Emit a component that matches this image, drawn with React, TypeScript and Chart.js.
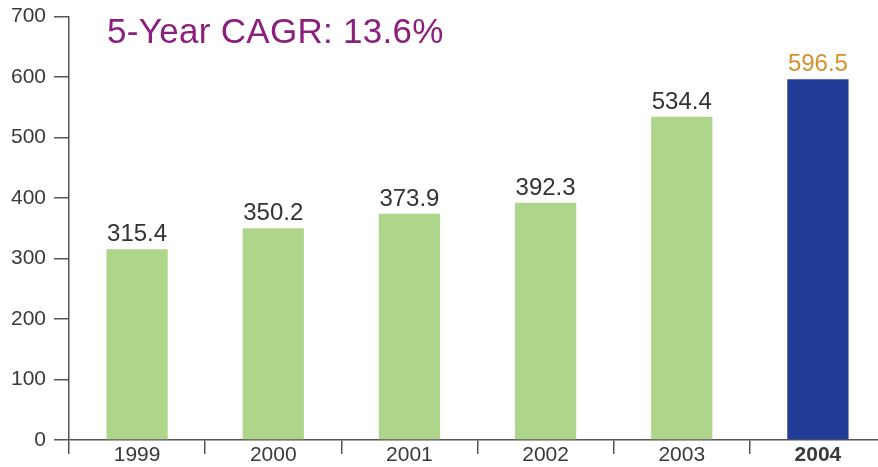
import React, { useEffect, useRef } from "react";
import { Chart, registerables } from "chart.js";

Chart.register(...registerables);

const years = ["1999", "2000", "2001", "2002", "2003", "2004"];
const revenue = [315.4, 350.2, 373.9, 392.3, 534.4, 596.5];
const valueLabels = ["315.4", "350.2", "373.9", "392.3", "534.4", "596.5"];
const titleText = "5-Year CAGR: 13.6%";

const FONT = "'Liberation Sans', Arial, sans-serif";
const GREEN = "#aed68a";
const BLUE = "#213d98";
const AXIS = "#555555";
const SHIFT = 4;

const labelPlugin = {
  id: "valueLabels",
  afterDatasetsDraw(chart: any) {
    const ctx = chart.ctx;
    const meta = chart.getDatasetMeta(0);
    ctx.save();
    ctx.font = `24px ${FONT}`;
    ctx.textAlign = "center";
    ctx.textBaseline = "alphabetic";
    meta.data.forEach((bar: any, i: number) => {
      ctx.fillStyle = i === revenue.length - 1 ? "#d4922e" : "#333333";
      ctx.fillText(valueLabels[i], bar.x, bar.y - 8);
    });
    // title
    ctx.font = `35px ${FONT}`;
    ctx.textAlign = "left";
    ctx.fillStyle = "#8b1f7d";
    try {
      (ctx as any).letterSpacing = "0.3px";
    } catch (e) {}
    ctx.fillText(titleText, 107, 43 + SHIFT);
    ctx.restore();
  },
};

export default function App() {
  const ref = useRef<HTMLCanvasElement>(null);
  useEffect(() => {
    if (!ref.current) return;
    const chart = new Chart(ref.current, {
      type: "bar",
      data: {
        labels: years,
        datasets: [
          {
            data: revenue,
            backgroundColor: revenue.map((_, i) => (i === revenue.length - 1 ? BLUE : GREEN)),
            borderWidth: 0,
            categoryPercentage: 1,
            barPercentage: 0.45,
          },
        ],
      },
      options: {
        animation: false,
        responsive: false,
        maintainAspectRatio: false,
        layout: { padding: { top: 13, right: 0, left: 0, bottom: 0 } },
        plugins: { legend: { display: false }, tooltip: { enabled: false }, title: { display: false } },
        scales: {
          x: {
            offset: true,
            grid: {
              offset: true,
              drawOnChartArea: false,
              drawTicks: true,
              tickLength: 14,
              color: AXIS,
              lineWidth: 1.5,
            },
            border: { display: true, color: AXIS, width: 1.5 },
            ticks: {
              padding: -11,
              color: "#3a3a3a",
              font: (c: any) => ({
                family: FONT,
                size: 21,
                weight: c.index === 5 ? "bold" : "normal",
              }),
            },
            afterFit: (s: any) => {
              s.height = 27;
            },
          },
          y: {
            min: 0,
            max: 700,
            ticks: {
              stepSize: 100,
              padding: 8,
              color: "#3a3a3a",
              font: { family: FONT, size: 21 },
            },
            grid: {
              drawOnChartArea: false,
              drawTicks: true,
              tickLength: 15,
              color: AXIS,
              lineWidth: 1.5,
            },
            border: { display: true, color: AXIS, width: 1.5 },
            afterFit: (s: any) => {
              s.width = 69;
            },
          },
        },
      },
      plugins: [labelPlugin],
    });
    return () => chart.destroy();
  }, []);
  return (
    <div style={{ position: "fixed", left: 0, top: 0, width: 878, height: 467, overflow: "hidden", background: "#fff" }}>
      <canvas
        ref={ref}
        width={886}
        height={467 + SHIFT}
        style={{ display: "block", position: "absolute", left: 0, top: -SHIFT, width: 886, height: 467 + SHIFT }}
      />
    </div>
  );
}
